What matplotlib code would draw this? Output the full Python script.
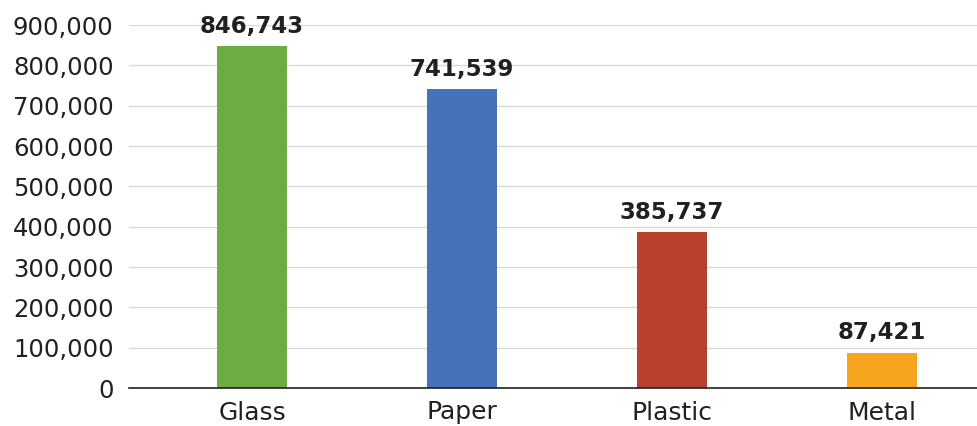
import matplotlib
matplotlib.use("Agg")
import matplotlib.pyplot as plt
from matplotlib.ticker import FuncFormatter, MultipleLocator

categories = ["Glass", "Paper", "Plastic", "Metal"]
values = [846743, 741539, 385737, 87421]
colors = ["#6DAC43", "#4673B8", "#B7402F", "#F6A51F"]

plt.rcParams['font.family'] = ['DejaVu Sans']

fig = plt.figure(figsize=(9.78, 4.26), dpi=100)
ax = fig.add_axes([129/978, 38/426, 1 - 129/978, (388-25)/426])

x = list(range(len(categories)))
bars = ax.bar(x, values, width=0.333, color=colors, zorder=2)

for xi, v in zip(x, values):
    ax.annotate(f"{v:,}", (xi, v), xytext=(0, 6), textcoords="offset points",
                ha="center", va="bottom", fontsize=16.5, fontweight="bold",
                color="#231F20", clip_on=False)

ax.set_ylim(0, 900000)
ax.set_xlim(-0.586, 3.457)
ax.yaxis.set_major_locator(MultipleLocator(100000))
ax.yaxis.set_major_formatter(FuncFormatter(lambda v, p: f"{int(v):,}"))
ax.set_xticks(x)
ax.set_xticklabels(categories)
ax.tick_params(axis="y", length=0, pad=11, labelsize=17.5, labelcolor="#231F20")
ax.tick_params(axis="x", length=0, pad=9, labelsize=18, labelcolor="#231F20")
ax.grid(axis="y", color="#D9D9D9", linewidth=1.0, zorder=0)
ax.set_axisbelow(True)
for s in ["top", "right", "left"]:
    ax.spines[s].set_visible(False)
ax.spines["bottom"].set_color("#231F20")
ax.spines["bottom"].set_linewidth(1.2)
ax.spines["bottom"].set_zorder(3)

fig.savefig("out.png", dpi=100)
